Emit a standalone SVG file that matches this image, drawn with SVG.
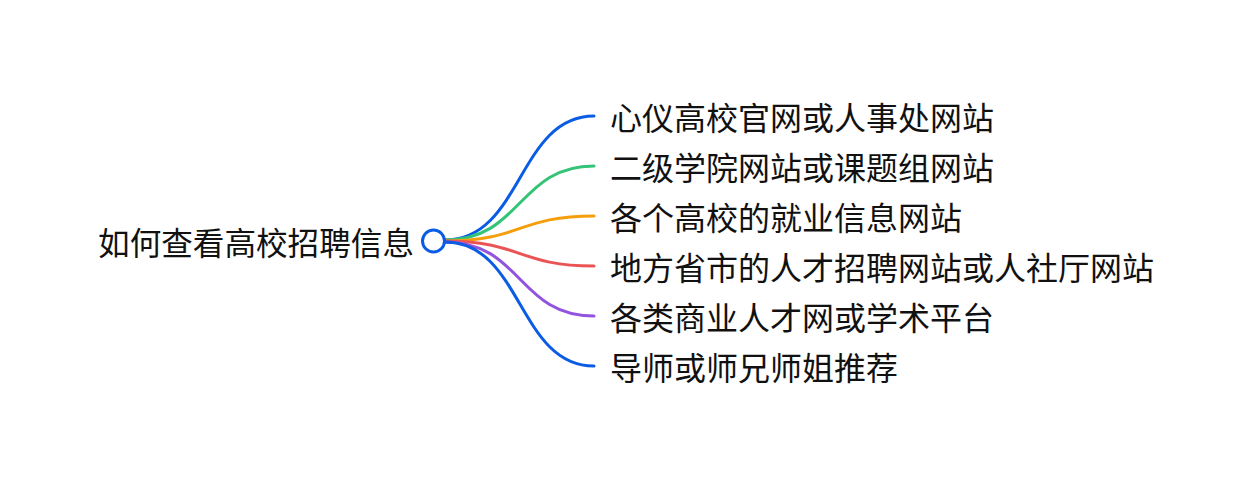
<svg xmlns="http://www.w3.org/2000/svg" width="1252" height="482" viewBox="0 0 1252 482">
<style>
text{font-family:"Noto Sans CJK SC","Noto Sans",sans-serif;font-size:32px;fill:#111;dominant-baseline:central}
.c{fill:none;stroke-width:3;stroke-linecap:round}
</style>
<rect width="1252" height="482" fill="#fff"/>
<g id="connectors">
<path class="c" stroke="#0b5ce5" d="M445,240 C522,240 518,116 594,116"/>
<path class="c" stroke="#34c477" d="M445,240 C522,240 518,166 594,166"/>
<path class="c" stroke="#f59e0b" d="M445,241 C522,241 518,216 594,216"/>
<path class="c" stroke="#ea5455" d="M445,241 C522,241 518,266 594,266"/>
<path class="c" stroke="#9254de" d="M445,242 C522,242 518,316 594,316"/>
<path class="c" stroke="#0b5ce5" d="M445,242 C522,242 518,366 594,366"/>
</g>
<g id="root">
<text x="414" y="241" text-anchor="end" style="font-size:31.6px">如何查看高校招聘信息</text>
<circle cx="433.5" cy="241" r="11" fill="#fff" stroke="#0b5ce5" stroke-width="3"/>
</g>
<g id="n1"><text x="610" y="116">心仪高校官网或人事处网站</text></g>
<g id="n2"><text x="610" y="166">二级学院网站或课题组网站</text></g>
<g id="n3"><text x="610" y="216">各个高校的就业信息网站</text></g>
<g id="n4"><text x="610" y="266">地方省市的人才招聘网站或人社厅网站</text></g>
<g id="n5"><text x="610" y="316">各类商业人才网或学术平台</text></g>
<g id="n6"><text x="610" y="366">导师或师兄师姐推荐</text></g>
</svg>
